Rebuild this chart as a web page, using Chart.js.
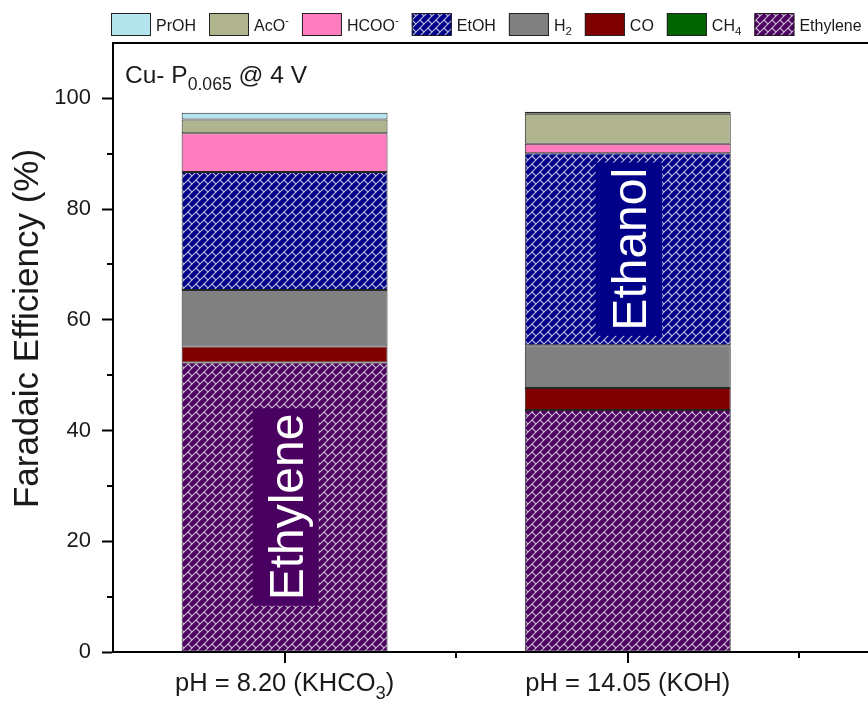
<!DOCTYPE html>
<html>
<head>
<meta charset="utf-8">
<script src="https://cdn.jsdelivr.net/npm/chart.js@4/dist/chart.umd.min.js"></script>
<style>
  html, body { margin: 0; padding: 0; background: #fff; overflow: hidden; }
  #wrap { width: 868px; height: 705px; position: relative; }
</style>
</head>
<body>
<div id="wrap"><canvas id="c" width="868" height="705"></canvas></div>
<script>
// Faradaic efficiency of Cu-P(0.065) at 4 V in two electrolytes (stacked products)
const conditions = ['pH = 8.20 (KHCO_{3})', 'pH = 14.05 (KOH)'];

// product shares in %, one value per condition
const ethylene = [52.3, 43.7];
const ch4      = [0.0, 0.0];
const co       = [2.9, 4.0];
const h2       = [10.2, 7.7];
const etoh     = [21.3, 34.7];
const hcoo     = [7.0, 1.7];
const aco      = [2.5, 5.4];
const proh     = [1.2, 0.4];

// stacking order, bottom first
const productNames = ['Ethylene', 'CH_{4}', 'CO', 'H_{2}', 'EtOH', 'HCOO^{-}', 'AcO^{-}', 'PrOH'];
const productSeries = [ethylene, ch4, co, h2, etoh, hcoo, aco, proh];

const yTicks = [0, 20, 40, 60, 80, 100];
const yMinorTicks = [10, 30, 50, 70, 90];
const xMinorTicks = [0.5, 1.5];

const annotationText = 'Cu- P_{0.065} @ 4 V';
const yTitle = 'Faradaic Efficiency (%)';
const barLabels = [
  { text: 'Ethylene', product: 'Ethylene', condition: 0 },
  { text: 'Ethanol',  product: 'EtOH',     condition: 1 }
];

const FONT = '"Liberation Sans", Arial, Helvetica, sans-serif';
const INK = '#1a1a1a';

// diagonal brick hatch used for the two main products
function hatch(base, ink) {
  const c = document.createElement('canvas');
  c.width = 8; c.height = 8;
  const g = c.getContext('2d');
  g.fillStyle = base;
  g.fillRect(0, 0, 8, 8);
  g.strokeStyle = ink;
  g.lineWidth = 1.1;
  g.beginPath();
  g.moveTo(-1, 9); g.lineTo(9, -1);
  g.moveTo(-1, 1); g.lineTo(1, -1);
  g.moveTo(7, 9); g.lineTo(9, 7);
  g.moveTo(4, 4); g.lineTo(8, 8);
  g.moveTo(0, 0); g.lineTo(-1, -1);
  g.stroke();
  return g.createPattern(c, 'repeat');
}

const baseColors = {
  'Ethylene': '#4a0060',
  'CH_{4}':   '#006400',
  'CO':       '#800000',
  'H_{2}':    '#808080',
  'EtOH':     '#000088',
  'HCOO^{-}': '#ff7cbe',
  'AcO^{-}':  '#afb48f',
  'PrOH':     '#b4e4ec'
};
const hatched = { 'Ethylene': true, 'EtOH': true };
const fills = {};
productNames.forEach(n => {
  fills[n] = hatched[n] ? hatch(baseColors[n], 'rgba(255,255,255,0.75)') : baseColors[n];
});

// simple markup: _{...} subscript, ^{...} superscript
function parseRich(s) {
  const out = [];
  const re = /(_|\^)\{([^}]*)\}/g;
  let last = 0, m;
  while ((m = re.exec(s))) {
    if (m.index > last) out.push({ t: s.slice(last, m.index), k: 0 });
    out.push({ t: m[2], k: m[1] === '_' ? -1 : 1 });
    last = re.lastIndex;
  }
  if (last < s.length) out.push({ t: s.slice(last), k: 0 });
  return out;
}
function richWidth(ctx, parts, size) {
  let w = 0;
  parts.forEach(p => {
    ctx.font = (p.k ? size * 0.72 : size) + 'px ' + FONT;
    w += ctx.measureText(p.t).width;
  });
  return w;
}
function drawRich(ctx, s, x, y, size, align) {
  const parts = parseRich(s);
  const w = richWidth(ctx, parts, size);
  let cx = align === 'center' ? x - w / 2 : (align === 'right' ? x - w : x);
  ctx.textAlign = 'left';
  ctx.textBaseline = 'alphabetic';
  parts.forEach(p => {
    const fs = p.k ? size * 0.72 : size;
    const dy = p.k === -1 ? size * 0.3 : (p.k === 1 ? -size * 0.38 : 0);
    ctx.font = fs + 'px ' + FONT;
    ctx.fillText(p.t, cx, y + dy);
    cx += ctx.measureText(p.t).width;
  });
  return w;
}

const decorations = {
  id: 'decorations',
  afterDatasetsDraw(chart) {
    const ctx = chart.ctx;
    ctx.save();
    barLabels.forEach(lb => {
      const di = productNames.indexOf(lb.product);
      const el = chart.getDatasetMeta(di).data[lb.condition];
      const cx = el.x, cy = (el.y + el.base) / 2;
      const F = 48;
      ctx.font = F + 'px ' + FONT;
      const adv = ctx.measureText(lb.text).width;
      const thick = 1.38 * F, len = adv + 0.22 * F;
      ctx.fillStyle = baseColors[lb.product];
      ctx.fillRect(cx - thick / 2 + 1, cy - len / 2, thick, len);
      ctx.save();
      ctx.translate(cx + 0.716 * F / 2 + 1, cy);
      ctx.rotate(-Math.PI / 2);
      ctx.fillStyle = '#ffffff';
      ctx.textAlign = 'center';
      ctx.textBaseline = 'alphabetic';
      ctx.fillText(lb.text, 0, 0);
      ctx.restore();
    });
    ctx.restore();
  },
  afterDraw(chart) {
    const ctx = chart.ctx;
    const a = chart.chartArea;
    const xs = chart.scales.x, ys = chart.scales.y;
    ctx.save();
    ctx.fillStyle = '#000';
    // top frame line
    ctx.fillRect(a.left - 1, a.top - 1, a.right - a.left + 1, 2);
    // minor y ticks
    yMinorTicks.forEach(v => {
      const py = Math.round(ys.getPixelForValue(v));
      ctx.fillRect(a.left - 6, py - 1, 6, 2);
    });
    // x ticks
    conditions.forEach((_, i) => {
      const px = Math.round(xs.getPixelForValue(i));
      ctx.fillRect(px - 1, a.bottom, 2, 11);
    });
    xMinorTicks.forEach(v => {
      const px = Math.round(xs.getPixelForValue(v));
      if (px < a.right) ctx.fillRect(px - 1, a.bottom, 2, 6);
    });
    // x category labels
    ctx.fillStyle = INK;
    conditions.forEach((lab, i) => {
      drawRich(ctx, lab, xs.getPixelForValue(i), a.bottom + 39, 25.5, 'center');
    });
    // y title
    ctx.save();
    ctx.translate(38, (a.top + a.bottom) / 2 - 19);
    ctx.rotate(-Math.PI / 2);
    ctx.font = '35px ' + FONT;
    ctx.textAlign = 'center';
    ctx.textBaseline = 'alphabetic';
    ctx.fillText(yTitle, 0, 0);
    ctx.restore();
    // condition annotation
    drawRich(ctx, annotationText, a.left + 12, a.top + 40, 24.5, 'left');
    // legend (top of stack first)
    let lx = a.left - 2;
    const boxW = 40, boxH = 23, boxY = 13, fs = 16;
    for (let i = productNames.length - 1; i >= 0; i--) {
      const n = productNames[i];
      ctx.fillStyle = fills[n];
      ctx.fillRect(lx, boxY, boxW, boxH);
      ctx.strokeStyle = '#222';
      ctx.lineWidth = 1;
      ctx.strokeRect(lx + 0.5, boxY + 0.5, boxW - 1, boxH - 1);
      ctx.fillStyle = INK;
      const w = drawRich(ctx, n, lx + boxW + 5, boxY + boxH / 2 + 6, fs, 'left');
      lx += boxW + 5 + w + 13;
    }
    ctx.restore();
  }
};

const datasets = productNames.map((n, i) => ({
  label: n,
  data: productSeries[i].map((v, j) => ({ x: j, y: v })),
  backgroundColor: fills[n],
  borderColor: '#262626',
  borderWidth: 1,
  borderSkipped: false,
  categoryPercentage: 1,
  barPercentage: 0.6
}));

new Chart(document.getElementById('c'), {
  type: 'bar',
  data: { datasets },
  options: {
    responsive: false,
    animation: false,
    layout: { padding: { top: 43, left: 0, right: 0, bottom: 0 } },
    plugins: { legend: { display: false }, tooltip: { enabled: false } },
    scales: {
      x: {
        type: 'linear',
        stacked: true,
        offset: false,
        min: -0.5,
        max: 1.7,
        afterBuildTicks: s => { s.ticks = conditions.map((_, i) => ({ value: i })); },
        afterFit: s => { s.height = 53; },
        ticks: { display: false },
        grid: { display: false },
        border: { display: true, color: '#000', width: 2 }
      },
      y: {
        stacked: true,
        min: 0,
        max: 110,
        afterBuildTicks: s => { s.ticks = yTicks.map(v => ({ value: v })); },
        afterFit: s => { s.width = 113; },
        ticks: { color: INK, padding: 11, font: { family: FONT, size: 22 } },
        grid: { display: true, drawOnChartArea: false, drawTicks: true, tickLength: 11, tickWidth: 2, tickColor: '#000' },
        border: { display: true, color: '#000', width: 2 }
      }
    }
  },
  plugins: [decorations]
});
</script>
</body>
</html>
